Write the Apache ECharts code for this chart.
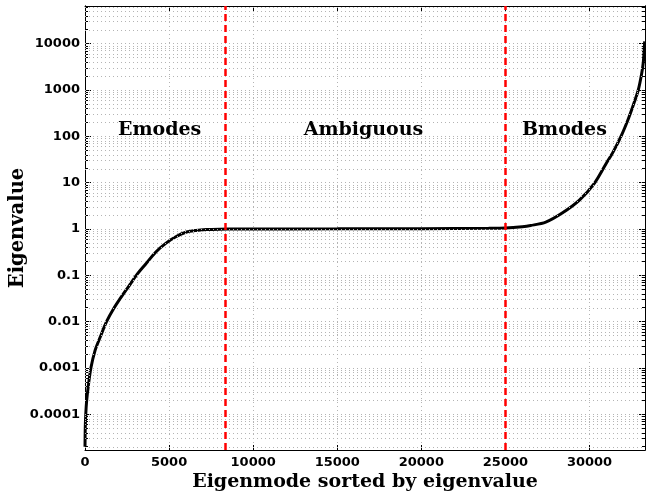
<!DOCTYPE html>
<html><head><meta charset="utf-8">
<script src="https://cdn.jsdelivr.net/npm/echarts@6/dist/echarts.min.js"></script>
<style>html,body{margin:0;padding:0;background:#fff}#c{width:646px;height:498px}</style>
</head><body><div id="c"></div>
<script>
// ---- data ----
const modeIndex = [0, 15, 45, 100, 200, 350, 600, 900, 1280, 1700, 2200, 2600, 3050, 3600, 4200, 4800, 5400, 6000, 6600, 7200, 8000, 9000,
  15000, 20000, 24000, 25000, 26000, 26500, 27400, 28400, 29400, 30300, 31000, 31400, 31900, 32300, 32600, 32900, 33100, 33200, 33280];
const eigenvalues = [2.0e-5, 5.0e-5, 1.0e-4, 2.0e-4, 4.2e-4, 1.0e-3, 2.4e-3, 4.6e-3, 1.0e-2, 1.9e-2, 3.6e-2, 5.8e-2, 0.10, 0.174, 0.316, 0.49, 0.68, 0.85, 0.93, 0.973, 0.993, 1.0,
  1.007, 1.019, 1.035, 1.05, 1.12, 1.19, 1.41, 2.24, 4.2, 9.8, 26.3, 45.7, 105, 234, 468, 1000, 2240, 3980, 11200];
const xMin = 0, xMax = 33300, xStep = 5000;
const yMin = 1.7e-5, yMax = 6.5e4;
const yTickValues = [1e-4, 1e-3, 1e-2, 1e-1, 1, 10, 100, 1000, 10000];
const yTickLabels = ['0.0001', '0.001', '0.01', '0.1', '1', '10', '100', '1000', '10000'];
const boundaries = [8350, 25000];
const regionNames = ['Emodes', 'Ambiguous', 'Bmodes'];
const regionCenters = [4435, 16560, 28510];
const regionLevel = 135;
const xTitle = 'Eigenmode sorted by eigenvalue';
const yTitle = 'Eigenvalue';

// ---- build ----
const L = Math.log10;
const lmin = L(yMin), lmax = L(yMax);
const majorLogs = yTickValues.map(L);
const minorLogs = [];
for (let d = -6; d <= 5; d++) for (let k = 2; k <= 9; k++) {
  const v = d + L(k);
  if (v > lmin && v < lmax) minorLogs.push(v);
}
const labelOf = v => { const i = majorLogs.findIndex(m => Math.abs(m - v) < 1e-6); return i >= 0 ? yTickLabels[i] : ''; };
const curve = modeIndex.map((x, i) => [x, L(eigenvalues[i])]);
const gridColor = '#b4b4b4';
const tickFont = {color: '#000', fontFamily: 'DejaVu Sans', fontWeight: 'bold', fontSize: 13};
const serifFont = {color: '#000', fontFamily: 'DejaVu Serif', fontWeight: 'bold'};

function yAx(pos, ticks, len, withLabels) {
  return {
    type: 'value', position: pos, min: lmin, max: lmax,
    axisLine: {show: true, onZero: false, lineStyle: {color: '#000', width: 1}},
    axisTick: {show: true, inside: true, length: len, customValues: ticks, lineStyle: {color: '#000', width: 1}},
    axisLabel: withLabels ? Object.assign({show: true, customValues: majorLogs, formatter: labelOf, margin: 5}, tickFont) : {show: false},
    splitLine: {show: false},
    name: withLabels ? yTitle : '', nameLocation: 'middle', nameGap: 57, nameMoveOverlap: false,
    nameTextStyle: Object.assign({fontSize: 19.5}, serifFont)
  };
}

const option = {
  animation: false,
  backgroundColor: '#fff',
  grid: {left: 85, right: 1, top: 6, bottom: 48, containLabel: false, outerBoundsMode: 'none'},
  xAxis: [
    {type: 'value', position: 'bottom', min: xMin, max: xMax, interval: xStep,
     axisLine: {show: true, onZero: false, lineStyle: {color: '#000', width: 1}},
     axisTick: {inside: true, length: 5, lineStyle: {color: '#000'}},
     axisLabel: Object.assign({formatter: v => String(v), showMaxLabel: false, margin: 6}, tickFont),
     splitLine: {show: true, lineStyle: {color: gridColor, type: [1, 3], width: 1}},
     name: xTitle, nameLocation: 'middle', nameGap: 23, nameMoveOverlap: false,
     nameTextStyle: Object.assign({fontSize: 19}, serifFont)},
    {type: 'value', position: 'top', min: xMin, max: xMax, interval: xStep,
     axisLine: {show: true, onZero: false, lineStyle: {color: '#000', width: 1}},
     axisTick: {inside: true, length: 5, lineStyle: {color: '#000'}},
     axisLabel: {show: false}, splitLine: {show: false}}
  ],
  yAxis: [
    yAx('left', majorLogs, 6, true),
    yAx('left', minorLogs, 3, false),
    yAx('right', majorLogs, 6, false),
    yAx('right', minorLogs, 3, false)
  ],
  series: [
    {type: 'line', data: [], z: 1, silent: true,
     markLine: {silent: true, symbol: ['none', 'none'], label: {show: false},
       lineStyle: {color: gridColor, type: [1, 3], width: 1},
       data: majorLogs.concat(minorLogs).map(v => ({yAxis: v}))}},
    {type: 'line', data: curve, showSymbol: false, symbol: 'none', clip: true, z: 3,
     smooth: 0.3,
     lineStyle: {color: '#000', width: 3}},
    {type: 'line', data: [], z: 5, silent: true,
     markLine: {silent: true, symbol: ['none', 'none'], label: {show: false},
       lineStyle: {color: '#ff0000', type: [7, 4], width: 2.5},
       data: boundaries.map(x => ({xAxis: x}))}},
    {type: 'scatter', z: 6, silent: true, symbolSize: 1, itemStyle: {color: 'rgba(0,0,0,0)', opacity: 1},
     data: regionNames.map((n, i) => [regionCenters[i], L(regionLevel), n]),
     label: Object.assign({show: true, position: 'inside', fontSize: 19, opacity: 1, formatter: p => p.data[2]}, serifFont)}
  ]
};
const chart = echarts.init(document.getElementById('c'), null, {renderer: 'canvas'});
chart.setOption(option);
</script></body></html>
